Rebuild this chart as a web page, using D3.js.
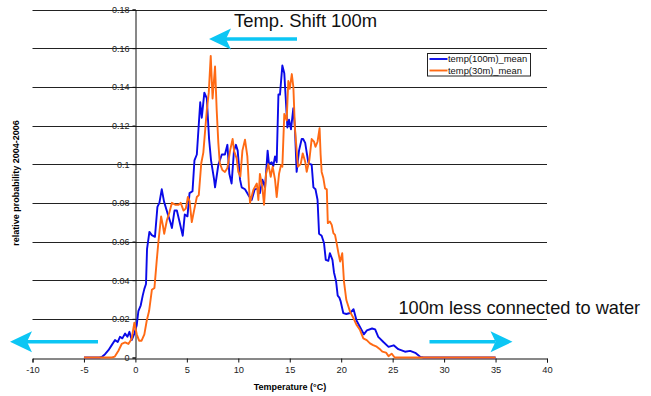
<!DOCTYPE html>
<meta charset="utf-8">
<head>
<script src="https://d3js.org/d3.v7.min.js"></script>
<style>
  body { margin: 0; background: #fff; }
  text { font-family: "Liberation Sans", Arial, sans-serif; }
</style>
</head>
<body>
<svg id="chart" width="651" height="396"></svg>
<script>
// ---- data ----
var xTicks = [-10, -5, 0, 5, 10, 15, 20, 25, 30, 35, 40];
var yTicks = [0, 0.02, 0.04, 0.06, 0.08, 0.1, 0.12, 0.14, 0.16, 0.18];
var yTickLabels = ["0", "0.02", "0.04", "0.06", "0.08", "0.1", "0.12", "0.14", "0.16", "0.18"];
var seriesNames = ["temp(100m)_mean", "temp(30m)_mean"];

// [temperature, relative probability]
var temp100m = [
  [-5,0],[-3.5,0],[-3.27,0.0003],[-2.95,0.0017],[-2.62,0.0038],[-2.3,0.0064],[-1.98,0.009],[-1.72,0.008],
  [-1.5,0.0107],[-1.27,0.0099],[-1.0,0.0124],[-0.78,0.0107],[-0.58,0.0133],[-0.36,0.009],[-0.1,0.0124],
  [0.13,0.0167],[0.29,0.024],[0.52,0.027],[0.71,0.032],[0.87,0.0355],[1.03,0.038],[1.13,0.056],[1.36,0.065],
  [1.59,0.0633],[1.9,0.0624],[2.14,0.0779],[2.33,0.08],[2.56,0.087],[2.79,0.0805],[3.16,0.074],[3.4,0.07],
  [3.55,0.067],[3.8,0.076],[4.03,0.076],[4.3,0.07],[4.6,0.063],[4.8,0.074],[5.06,0.073],[5.26,0.085],
  [5.55,0.086],[5.74,0.102],[5.97,0.105],[6.3,0.132],[6.45,0.124],[6.7,0.137],[6.94,0.134],[7.16,0.113],
  [7.35,0.102],[7.65,0.092],[7.74,0.088],[8.06,0.0997],[8.4,0.105],[8.7,0.105],[8.94,0.11],[9.13,0.095],
  [9.35,0.09],[9.58,0.107],[9.77,0.11],[9.94,0.107],[10.17,0.092],[10.33,0.088],[10.65,0.087],[10.98,0.084],
  [11.3,0.0815],[11.6,0.087],[11.95,0.0875],[12.1,0.085],[12.34,0.092],[12.6,0.088],[12.85,0.107],[12.98,0.1],
  [13.24,0.101],[13.4,0.099],[13.57,0.104],[13.73,0.101],[13.9,0.136],[14.05,0.136],[14.28,0.151],[14.47,0.147],
  [14.6,0.135],[14.77,0.119],[14.93,0.123],[15.12,0.118],[15.35,0.129],[15.5,0.119],[15.67,0.096],[15.9,0.107],
  [16.16,0.113],[16.3,0.113],[16.5,0.111],[16.65,0.106],[16.8,0.101],[16.97,0.1],[17.13,0.0997],[17.3,0.088],
  [17.5,0.087],[17.7,0.0816],[17.85,0.064],[18.1,0.063],[18.33,0.0592],[18.5,0.0505],[18.75,0.05],[18.9,0.054],
  [19.15,0.0505],[19.3,0.044],[19.5,0.0395],[19.66,0.032],[19.82,0.031],[19.95,0.029],[20.2,0.023],[20.5,0.0225],
  [20.86,0.023],[21.2,0.025],[21.5,0.019],[21.8,0.016],[22.2,0.012],[22.5,0.014],[23.0,0.015],[23.3,0.0145],
  [23.6,0.0107],[24.1,0.008],[24.6,0.0055],[25.1,0.0063],[25.55,0.0043],[26.2,0.003],[26.7,0.0034],[27.2,0.0024],
  [27.7,0.0003],[28.0,0],[35,0]
];

var temp30m = [
  [-5,0],[-2.3,0],[-2.0,0.0005],[-1.65,0.0035],[-1.33,0.007],[-1.0,0.0078],[-0.68,0.007],[-0.36,0.0097],
  [-0.1,0.018],[0.13,0.012],[0.36,0.0087],[0.6,0.0087],[0.87,0.012],[1.1,0.019],[1.33,0.024],[1.6,0.035],
  [1.85,0.036],[2.07,0.05],[2.24,0.06],[2.5,0.073],[2.68,0.068],[2.8,0.064],[3.06,0.071],[3.3,0.075],
  [3.55,0.08],[3.87,0.079],[4.2,0.079],[4.4,0.08],[4.68,0.076],[4.9,0.077],[5.1,0.083],[5.26,0.081],
  [5.48,0.07],[5.7,0.076],[5.97,0.083],[6.16,0.084],[6.4,0.1005],[6.6,0.106],[6.77,0.117],[6.94,0.128],
  [7.13,0.137],[7.32,0.156],[7.5,0.134],[7.74,0.1505],[7.9,0.128],[8.06,0.111],[8.2,0.1005],[8.45,0.097],
  [8.7,0.096],[8.94,0.098],[9.2,0.107],[9.45,0.113],[9.6,0.1066],[9.84,0.103],[10.0,0.096],[10.2,0.0936],
  [10.4,0.107],[10.65,0.1127],[10.88,0.104],[11.04,0.088],[11.14,0.08],[11.46,0.0867],[11.8,0.09],[11.95,0.0815],
  [12.1,0.095],[12.34,0.088],[12.5,0.079],[12.7,0.095],[12.92,0.1],[13.15,0.0935],[13.34,0.0987],[13.57,0.092],
  [13.73,0.083],[13.96,0.095],[14.15,0.0995],[14.28,0.0987],[14.47,0.126],[14.7,0.1226],[14.86,0.143],[15.0,0.139],
  [15.2,0.1466],[15.35,0.14],[15.5,0.119],[15.67,0.107],[15.8,0.0987],[16.06,0.1],[16.26,0.1056],[16.5,0.1013],
  [16.65,0.096],[16.9,0.102],[17.13,0.113],[17.36,0.1116],[17.5,0.109],[17.7,0.1116],[17.9,0.1186],[18.0,0.105],
  [18.1,0.096],[18.27,0.0927],[18.43,0.0875],[18.6,0.087],[18.7,0.0695],[18.9,0.0703],[19.08,0.0686],[19.24,0.0643],
  [19.4,0.0634],[19.56,0.059],[19.73,0.054],[19.9,0.0496],[20.1,0.054],[20.27,0.0393],[20.5,0.0297],[20.86,0.0237],
  [21.2,0.0203],[21.5,0.0168],[21.83,0.0142],[22.15,0.0099],[22.48,0.009],[22.8,0.0073],[23.1,0.0064],[23.45,0.0056],
  [23.8,0.0041],[24.0,0.003],[24.36,0.0025],[24.6,0.0007],[24.9,0.002],[25.2,0],[35,0]
];

// ---- drawing ----
var svg = d3.select("#chart");
var x = d3.scaleLinear().domain([-10, 40]).range([32.5, 547]);
var y = d3.scaleLinear().domain([0, 0.18]).range([357.5, 9.5]);
var colors = ["#0a0ae8", "#ff6a14"];
var cyan = "#0cc6f4";
var font = "'Liberation Sans', Arial, sans-serif";

// horizontal gridlines
svg.append("g").selectAll("line")
  .data(yTicks.slice(1))
  .enter().append("line")
    .attr("x1", x(-10)).attr("x2", x(40))
    .attr("y1", function(d) { return Math.round(y(d)) + 0.5; })
    .attr("y2", function(d) { return Math.round(y(d)) + 0.5; })
    .attr("stroke", "#222").attr("stroke-width", 1);

// x axis (drawn at y = 0)
var xAxis = d3.axisBottom(x).tickValues(xTicks).tickSize(4).tickPadding(4)
  .tickFormat(function(d) { return d; });
var gx = svg.append("g")
  .attr("transform", "translate(0," + (Math.round(y(0)) + 0.5) + ")")
  .call(xAxis);
gx.select(".domain").attr("stroke", "#111");
gx.selectAll(".tick line").attr("stroke", "#111");
gx.selectAll(".tick text").attr("font-size", "9.3px").attr("fill", "#222")
  .style("font-family", font);

// y axis (crosses at x = 0)
var yAxis = d3.axisLeft(y).tickValues(yTicks).tickSize(3).tickPadding(3)
  .tickFormat(function(d, i) { return yTickLabels[i]; });
var gy = svg.append("g")
  .attr("transform", "translate(" + (Math.round(x(0)) + 0.5) + ",0)")
  .call(yAxis);
gy.select(".domain").attr("stroke", "#111");
gy.selectAll(".tick line").attr("stroke", "#111");
gy.selectAll(".tick text").attr("font-size", "9px").attr("fill", "#222")
  .style("font-family", font);

// series lines
var line = d3.line()
  .x(function(d) { return x(d[0]); })
  .y(function(d) { return y(d[1]); });

svg.append("path").datum(temp100m)
  .attr("fill", "none").attr("stroke", colors[0]).attr("stroke-width", 1.9)
  .attr("stroke-linejoin", "round").attr("d", line);
svg.append("path").datum(temp30m)
  .attr("fill", "none").attr("stroke", colors[1]).attr("stroke-width", 1.9)
  .attr("stroke-linejoin", "round").attr("d", line);

// axis titles
svg.append("text")
  .attr("transform", "translate(19,183) rotate(-90)")
  .attr("text-anchor", "middle").attr("font-size", "9px").attr("font-weight", "bold")
  .text("relative probability 2004-2006");
svg.append("text")
  .attr("x", 290).attr("y", 390)
  .attr("text-anchor", "middle").attr("font-size", "9px").attr("font-weight", "bold")
  .text("Temperature (°C)");

// legend
var legend = svg.append("g").attr("transform", "translate(427.5,53.5)");
legend.append("rect").attr("width", 103).attr("height", 22.5)
  .attr("fill", "#fff").attr("stroke", "#222").attr("stroke-width", 1);
seriesNames.forEach(function(name, i) {
  var ly = 5.5 + i * 11.5;
  legend.append("line").attr("x1", 2).attr("x2", 20).attr("y1", ly).attr("y2", ly)
    .attr("stroke", colors[i]).attr("stroke-width", 1.9);
  legend.append("text").attr("x", 20.5).attr("y", ly + 3.3).attr("font-size", "9.4px")
    .attr("fill", "#111").text(name);
});

// annotations
function arrow(x0, x1, yy) {
  // shaft from x0 to tip at x1
  var dir = x1 < x0 ? -1 : 1;
  var back = x1 - dir * 22;
  var notch = x1 - dir * 17;
  svg.append("line").attr("x1", x0).attr("x2", notch).attr("y1", yy).attr("y2", yy)
    .attr("stroke", cyan).attr("stroke-width", 3.6);
  svg.append("path")
    .attr("d", "M" + x1 + "," + yy + "L" + back + "," + (yy - 10.5) +
      "L" + notch + "," + yy + "L" + back + "," + (yy + 10.5) + "Z")
    .attr("fill", cyan);
}
arrow(297, 209, 39);
arrow(98, 10, 341.7);
arrow(429.5, 512.5, 341.7);

svg.append("text").attr("x", 234).attr("y", 26.5).attr("font-size", "18.4px")
  .attr("fill", "#111").text("Temp. Shift 100m");
svg.append("text").attr("x", 398.5).attr("y", 314).attr("font-size", "18.2px")
  .attr("fill", "#111").text("100m less connected to water");
</script>
</body>
